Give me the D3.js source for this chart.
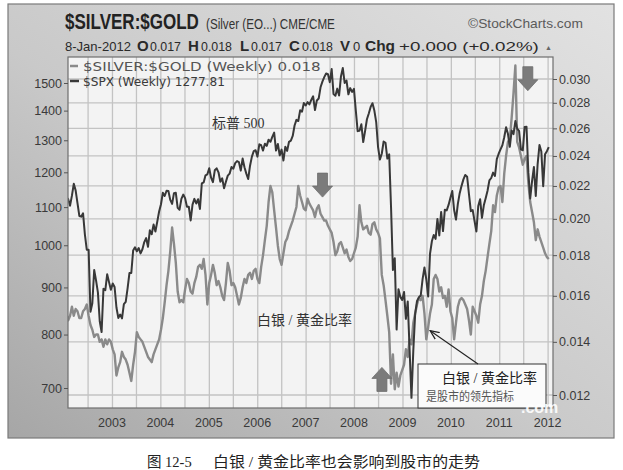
<!DOCTYPE html>
<html><head><meta charset="utf-8">
<script src="https://cdn.jsdelivr.net/npm/d3@7"></script>
<style>body{margin:0;background:#fff}svg{display:block}</style>
</head><body>
<svg id="chart" width="623" height="470"></svg>
<script>
const startDate = "2002-01-18";
const stepDays = 14;
const spxValues = [
 1128,1122,1104,1132,1166,1147,1111,1076,1074,1083,1027,989,989,847,865,940,916,889,827,805,897,894,930,912,895,909,
 901,856,834,841,833,863,868,898,933,933,987,995,985,993,980,990,1008,1018,996,1038,1028,1053,1035,1061,1088,1108,
 1140,1131,1146,1145,1120,1109,1139,1140,1098,1093,1123,1135,1125,1101,1101,1064,1107,1123,1110,1122,1095,1167,1170,1191,1194,1212,
 1184,1171,1206,1212,1200,1172,1182,1153,1172,1190,1196,1216,1211,1228,1234,1231,1205,1242,1215,1196,1180,1220,1248,1265,1268,1248,
 1287,1284,1267,1289,1282,1302,1295,1311,1325,1267,1288,1252,1270,1236,1279,1266,1295,1299,1314,1349,1368,1364,1401,1396,1427,1418,
 1430,1422,1438,1451,1402,1436,1443,1484,1505,1522,1536,1533,1503,1553,1459,1453,1479,1454,1525,1557,1500,1509,1458,1481,1467,1478,
 1401,1330,1331,1353,1294,1330,1370,1390,1413,1426,1400,1360,1278,1239,1257,1296,1292,1242,1255,1099,940,968,810,896,879,872,
 890,832,869,770,683,769,843,870,878,882,919,946,918,880,979,1010,1026,1016,1068,1025,1087,1036,1093,1091,1106,1126,
 1145,1092,1066,1109,1139,1160,1179,1192,1187,1136,1089,1092,1062,1035,1103,1122,1071,1105,1125,1146,1176,1183,1199,1189,1240,1257,
 1271,1284,1310,1343,1321,1279,1332,1320,1364,1338,1331,1271,1268,1344,1345,1199,1124,1174,1216,1131,1225,1285,1264,1159,1255,1265,1277.81
];
const ratioValues = [
 0.0152,0.0149,0.0151,0.0155,0.0151,0.0154,0.0153,0.0150,0.0150,0.0153,0.0154,0.0156,0.0151,0.0147,0.0145,0.0142,0.0143,0.0143,0.0140,0.0141,0.0138,0.0141,0.0139,0.0141,0.0140,0.0137,
 0.0135,0.0127,0.0130,0.0132,0.0136,0.0134,0.0133,0.0131,0.0128,0.0125,0.0131,0.0136,0.0144,0.0142,0.0141,0.0140,0.0138,0.0136,0.0134,0.0133,0.0132,0.0135,0.0137,0.0139,0.0141,0.0145,
 0.0150,0.0157,0.0165,0.0172,0.0182,0.0195,0.0186,0.0176,0.0162,0.0157,0.0158,0.0157,0.0163,0.0168,0.0166,0.0162,0.0161,0.0166,0.0169,0.0174,0.0175,0.0173,0.0178,0.0170,0.0156,0.0166,
 0.0170,0.0175,0.0171,0.0165,0.0167,0.0164,0.0160,0.0158,0.0166,0.0176,0.0172,0.0165,0.0166,0.0164,0.0160,0.0156,0.0159,0.0164,0.0168,0.0166,0.0170,0.0171,0.0168,0.0172,0.0173,0.0168,
 0.0166,0.0174,0.0180,0.0188,0.0196,0.0210,0.0220,0.0216,0.0205,0.0195,0.0185,0.0178,0.0175,0.0181,0.0187,0.0189,0.0193,0.0196,0.0199,0.0203,0.0207,0.0220,0.0214,0.0210,0.0206,0.0205,
 0.0212,0.0209,0.0207,0.0205,0.0201,0.0206,0.0208,0.0203,0.0201,0.0199,0.0199,0.0196,0.0194,0.0192,0.0187,0.0180,0.0182,0.0186,0.0187,0.0184,0.0181,0.0183,0.0179,0.0177,0.0178,0.0181,
 0.0184,0.0190,0.0208,0.0198,0.0194,0.0195,0.0196,0.0192,0.0191,0.0197,0.0198,0.0194,0.0192,0.0189,0.0170,0.0165,0.0158,0.0151,0.0144,0.0124,0.0135,0.0122,0.0128,0.0123,0.0127,0.0129,
 0.0131,0.0137,0.0134,0.0141,0.0139,0.0148,0.0152,0.0156,0.0159,0.0158,0.0160,0.0152,0.0141,0.0146,0.0152,0.0156,0.0168,0.0170,0.0168,0.0162,0.0164,0.0159,0.0160,0.0155,0.0163,0.0153,
 0.0150,0.0141,0.0148,0.0155,0.0158,0.0159,0.0158,0.0156,0.0154,0.0149,0.0143,0.0155,0.0153,0.0151,0.0148,0.0156,0.0160,0.0167,0.0172,0.0179,0.0186,0.0193,0.0208,0.0204,0.0214,0.0219,
 0.0220,0.0210,0.0228,0.0240,0.0250,0.0252,0.0268,0.0288,0.0312,0.0250,0.0246,0.0240,0.0234,0.0238,0.0240,0.0222,0.0210,0.0204,0.0198,0.0188,0.0194,0.0190,0.0187,0.0184,0.0181,0.0179,0.0178
];
const leftTicks = [700,800,900,1000,1100,1200,1300,1400,1500];
const rightTicks = [0.012,0.014,0.016,0.018,0.020,0.022,0.024,0.026,0.028,0.030];
const yearLabels = ["2003","2004","2005","2006","2007","2008","2009","2010","2011","2012"];
// annotation anchors (date, ratio value at arrow tip)
const arrowNotes = [
  {date:"2007-05-05", value:0.0213, dir:"down"},
  {date:"2011-08-01", value:0.0290, dir:"down"},
  {date:"2008-07-26", value:0.0130, dir:"up"}
];
const calloutTip = {date:"2009-07-10", value:0.0145};

// ---- drawing ----
const svg = d3.select("#chart");
const parse = d3.timeParse("%Y-%m-%d");
const t0 = parse(startDate);
const spx = spxValues.map((v,i)=>({date:d3.timeDay.offset(t0,i*stepDays), v}));
const ratio = ratioValues.map((v,i)=>({date:d3.timeDay.offset(t0,i*stepDays), v}));

const P = {l:68, r:553, t:57, b:408};
const x = d3.scaleTime().domain([new Date(2002,0,1), new Date(2012,0,1)]).range([64.1, 548.1]);
const yL = d3.scaleLog().domain([700,1500]).range([388,83]);
const yR = d3.scaleLog().domain([0.012,0.030]).range([395,79]);

const defs = svg.append("defs");
const g1 = defs.append("linearGradient").attr("id","frameGrad")
  .attr("x1","1").attr("y1","0").attr("x2","0").attr("y2","1");
g1.append("stop").attr("offset","0").attr("stop-color","#e2e2e2");
g1.append("stop").attr("offset","0.55").attr("stop-color","#c9c9c9");
g1.append("stop").attr("offset","1").attr("stop-color","#a6a6a6");
defs.append("clipPath").attr("id","plotClip").append("rect")
  .attr("x",P.l).attr("y",P.t).attr("width",P.r-P.l).attr("height",P.b-P.t);
defs.append("marker").attr("id","ah").attr("viewBox","0 0 10 10").attr("refX",9).attr("refY",5)
  .attr("markerWidth",9).attr("markerHeight",9).attr("orient","auto")
  .append("path").attr("d","M0,1 L9,5 L0,9").attr("fill","none").attr("stroke","#222").attr("stroke-width",1.3);

// frame
svg.append("rect").attr("x",8).attr("y",4).attr("width",606).attr("height",434)
  .attr("fill","url(#frameGrad)").attr("stroke","#7a7a7a").attr("stroke-width",1.2);
// plot background
svg.append("rect").attr("x",P.l).attr("y",P.t).attr("width",P.r-P.l).attr("height",P.b-P.t)
  .attr("fill","#f3f3f3");

// grid
const gridMonths = d3.timeMonths(new Date(2002,6,1), new Date(2012,0,2), 6);
svg.append("g").selectAll("line").data(gridMonths).join("line")
  .attr("x1",d=>x(d)).attr("x2",d=>x(d)).attr("y1",P.t).attr("y2",P.b)
  .attr("stroke","#c3c3c3").attr("stroke-width",1.3);
svg.append("g").selectAll("line").data(rightTicks).join("line")
  .attr("x1",P.l).attr("x2",P.r).attr("y1",d=>yR(d)).attr("y2",d=>yR(d))
  .attr("stroke","#c3c3c3").attr("stroke-width",1.3);

// lines
const plot = svg.append("g").attr("clip-path","url(#plotClip)");
plot.append("path").datum(ratio)
  .attr("d", d3.line().x(d=>x(d.date)).y(d=>yR(d.v)))
  .attr("fill","none").attr("stroke","#8a8a8a").attr("stroke-width",2.4).attr("stroke-linejoin","round");
plot.append("path").datum(spx)
  .attr("d", d3.line().x(d=>x(d.date)).y(d=>yL(d.v)))
  .attr("fill","none").attr("stroke","#383838").attr("stroke-width",2).attr("stroke-linejoin","round");

// plot border
svg.append("rect").attr("x",P.l).attr("y",P.t).attr("width",P.r-P.l).attr("height",P.b-P.t)
  .attr("fill","none").attr("stroke","#6e6e6e").attr("stroke-width",1.2);

// axes
const axFont = "'Liberation Sans', Arial, sans-serif";
const aL = svg.append("g").attr("transform",`translate(${P.l},0)`)
  .call(d3.axisLeft(yL).tickValues(leftTicks).tickFormat(d3.format("d")).tickSize(4).tickPadding(2));
const aR = svg.append("g").attr("transform",`translate(${P.r},0)`)
  .call(d3.axisRight(yR).tickValues(rightTicks).tickFormat(d3.format(".3f")).tickSize(4).tickPadding(2));
const aB = svg.append("g").attr("transform",`translate(0,${P.b})`)
  .call(d3.axisBottom(x).tickValues(yearLabels.map(s=>new Date(+s,0,1))).tickFormat(d3.timeFormat("%Y")).tickSize(0).tickPadding(10));
[aL,aR,aB].forEach(a=>{
  a.select(".domain").remove();
  a.selectAll("line").attr("stroke","#555");
  a.selectAll("text").attr("font-family",axFont).attr("font-size",12.5).attr("fill","#3a3a3a");
});
aB.selectAll("text").attr("dx",-1);

// text helper: optional fit to a target width by horizontal scaling
const narrow = "'Liberation Sans Narrow','Arial Narrow','Liberation Sans',Arial,sans-serif";
function txt(s,xp,yp,o={}){
  const t = svg.append("text").attr("x",0).attr("y",0).text(s)
    .attr("font-family",o.ff||narrow).attr("font-size",o.fs||13)
    .attr("font-weight",o.fw||"normal").attr("fill",o.fill||"#2a2a2a");
  let sx = 1;
  if(o.tl){ const w = t.node().getComputedTextLength(); if(w>0) sx = o.tl/w; }
  t.attr("transform",`translate(${xp},${yp}) scale(${sx},1)`);
  return t;
}
txt("$SILVER:$GOLD",65,29,{fs:22,fw:"bold",tl:134,fill:"#222"});
txt("(Silver (EO...) CME/CME",206,29,{fs:14,tl:129,fill:"#333"});
txt("©StockCharts.com",468,28,{fs:13,tl:115,fill:"#5a5a5a"});
const l2 = 51;
txt("8-Jan-2012",65,l2,{fs:13,tl:66});
txt("O",137,l2,{fs:15,fw:"bold"}); txt("0.017",150,l2,{fs:13,tl:31});
txt("H",188,l2,{fs:15,fw:"bold"}); txt("0.018",201,l2,{fs:13,tl:31});
txt("L",240,l2,{fs:15,fw:"bold"}); txt("0.017",251,l2,{fs:13,tl:31});
txt("C",289,l2,{fs:15,fw:"bold"}); txt("0.018",302,l2,{fs:13,tl:31});
txt("V",340,l2,{fs:15,fw:"bold"}); txt("0",353,l2,{fs:13});
txt("Chg",365,l2,{fs:15,fw:"bold",tl:30}); txt("+0.000 (+0.02%)",399,l2,{fs:13,tl:140});
txt("▲",545,l2-1,{fs:7,fill:"#666"});

// legend
svg.append("line").attr("x1",70).attr("x2",78).attr("y1",66).attr("y2",66).attr("stroke","#8a8a8a").attr("stroke-width",2.5);
svg.append("line").attr("x1",70).attr("x2",79).attr("y1",81).attr("y2",81).attr("stroke","#383838").attr("stroke-width",2.5);
const legFont = "'DejaVu Sans',Verdana,sans-serif";
txt("$SILVER:$GOLD (Weekly) 0.018",83,71,{ff:legFont,fs:13,tl:238,fill:"#555"});
txt("$SPX (Weekly) 1277.81",83,86,{ff:legFont,fs:12.5,tl:142,fill:"#3a3a3a"});

// block arrows
function blockArrow(cx, tipY, dir){
  const s = dir==="down" ? -1 : 1; // direction from tip toward tail
  const pts = [[cx-5,tipY+s*24],[cx+5,tipY+s*24],[cx+5,tipY+s*11],[cx+10,tipY+s*11],[cx,tipY],[cx-10,tipY+s*11],[cx-5,tipY+s*11]];
  return "M"+pts.map(p=>p.join(",")).join("L")+"Z";
}
svg.append("g").selectAll("path").data(arrowNotes).join("path")
  .attr("d",d=>blockArrow(x(parse(d.date)), yR(d.value), d.dir))
  .attr("fill","#7b7b7b").attr("stroke","#6d6d6d").attr("stroke-width",0.8);

// chinese annotations
const cjk = "'Liberation Serif','Noto Sans CJK SC',serif";
txt("标普 500",212,128,{ff:cjk,fs:14,fill:"#333"});
txt("白银 / 黄金比率",257,325,{ff:cjk,fs:14,fill:"#333"});

// callout box
svg.append("rect").attr("x",418).attr("y",364).attr("width",128).attr("height",44)
  .attr("fill","#fbfbfb").attr("stroke","#333").attr("stroke-width",1);
txt("白银 / 黄金比率",442,383,{ff:cjk,fs:14,fill:"#222"});
txt("是股市的领先指标",426,401,{ff:cjk,fs:12,tl:88,fill:"#555"});
svg.append("line").attr("x1",478).attr("y1",364)
  .attr("x2",x(parse(calloutTip.date))+2).attr("y2",yR(calloutTip.value)+1)
  .attr("stroke","#222").attr("stroke-width",1.1).attr("marker-end","url(#ah)");

// watermark of the scanned source
txt(".com",521,413,{ff:"'Liberation Sans',Arial,sans-serif",fs:16,fw:"bold",fill:"#ffffff"}).attr("opacity",0.9);

// caption
txt("图 12-5",147,467,{ff:cjk,fs:14.5,fill:"#222"});
txt("白银 / 黄金比率也会影响到股市的走势",213,467,{ff:cjk,fs:14.5,tl:267,fill:"#222"});
</script>
</body></html>
